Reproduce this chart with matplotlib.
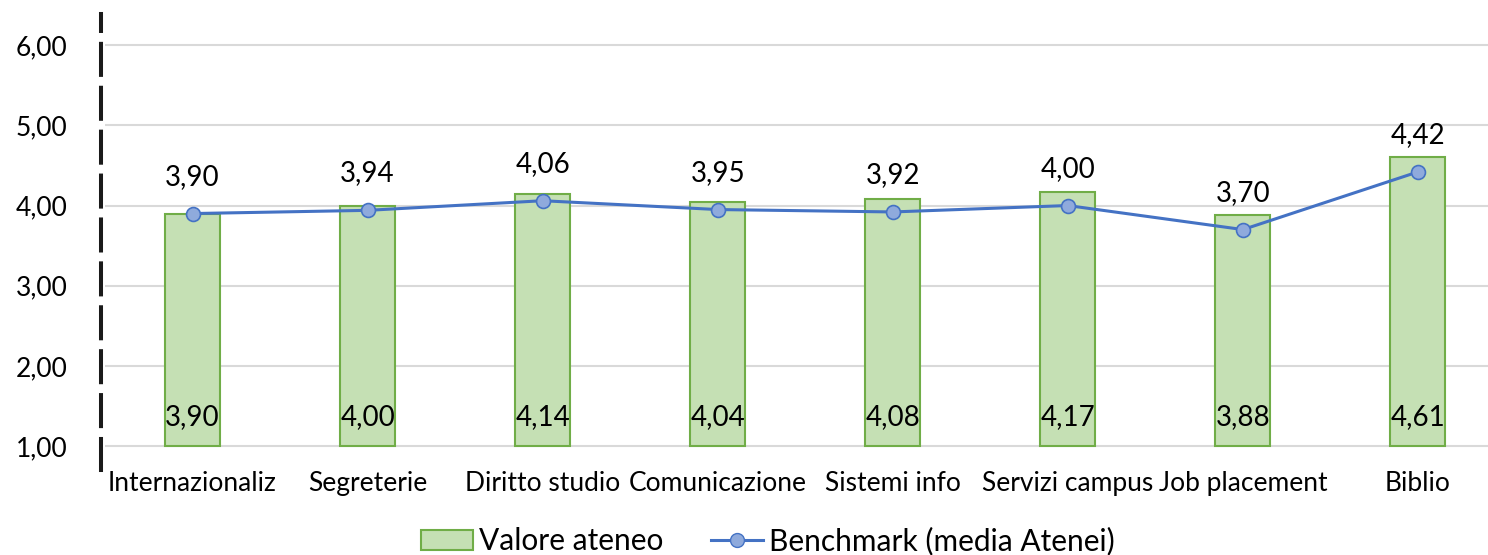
import matplotlib.pyplot as plt
from matplotlib.lines import Line2D
from matplotlib.patches import Patch

categories = ['Internazionaliz', 'Segreterie', 'Diritto studio', 'Comunicazione',
              'Sistemi info', 'Servizi campus', 'Job placement', 'Biblio']
valore = [3.90, 4.00, 4.14, 4.04, 4.08, 4.17, 3.88, 4.61]
benchmark = [3.90, 3.94, 4.06, 3.95, 3.92, 4.00, 3.70, 4.42]
yticks = [1, 2, 3, 4, 5, 6]


def fmt(v):
    return f'{v:.2f}'.replace('.', ',')


plt.rcParams['font.family'] = ['Lato', 'DejaVu Sans']
plt.rcParams['font.size'] = 19

fig = plt.figure(figsize=(14.88, 5.55), dpi=100)
ax = fig.add_axes([105 / 1488, 85 / 555, 1383 / 1488, 456 / 555])

x = list(range(len(categories)))
base = 1.0
ax.bar(x, [v - base for v in valore], bottom=base, width=0.314,
       color='#C5E0B4', edgecolor='#70AD47', linewidth=1.5, zorder=2)
ax.plot(x, benchmark, color='#4472C4', linewidth=2.2, marker='o', markersize=10,
        markerfacecolor='#8FAADC', markeredgecolor='#4472C4', markeredgewidth=1.2,
        zorder=3)

for i in x:
    ax.annotate(fmt(valore[i]), xy=(i, base), xytext=(0, 21), textcoords='offset points',
                ha='center', va='center', fontsize=20, zorder=4)
    ax.annotate(fmt(benchmark[i]), xy=(i, benchmark[i]), xytext=(0, 26.5),
                textcoords='offset points', ha='center', va='center', fontsize=20,
                zorder=4)

ax.set_xlim(-0.5, 7.4)
ax.set_ylim(0.7, 6.39)
ax.set_yticks(yticks)
ax.set_yticklabels([fmt(v) for v in yticks], fontsize=21)
ax.set_xticks(x)
ax.set_xticklabels(categories)
ax.tick_params(axis='both', length=0)
ax.tick_params(axis='y', pad=24)
ax.tick_params(axis='x', pad=1)
ax.yaxis.grid(True, color='#D9D9D9', linewidth=1.5, zorder=0)
ax.set_axisbelow(True)

for s in ['top', 'right', 'bottom']:
    ax.spines[s].set_visible(False)
ax.spines['left'].set_linewidth(2.9)
ax.spines['left'].set_color('#1a1a1a')
ax.spines['left'].set_linestyle((0, (7.7, 3.2)))
ax.spines['left'].set_position(('outward', 3))

handles = [Patch(facecolor='#C5E0B4', edgecolor='#70AD47', linewidth=1.5),
           Line2D([], [], color='#4472C4', linewidth=2.2, marker='o', markersize=10,
                  markerfacecolor='#8FAADC', markeredgecolor='#4472C4')]
fig.legend(handles, ['Valore ateneo', 'Benchmark (media Atenei)'], loc='center',
           bbox_to_anchor=(768 / 1488, 0.025), ncol=2, frameon=False, fontsize=21.5,
           handlelength=1.75, handletextpad=0.2, columnspacing=1.6)

fig.savefig('out.png', dpi=100)
